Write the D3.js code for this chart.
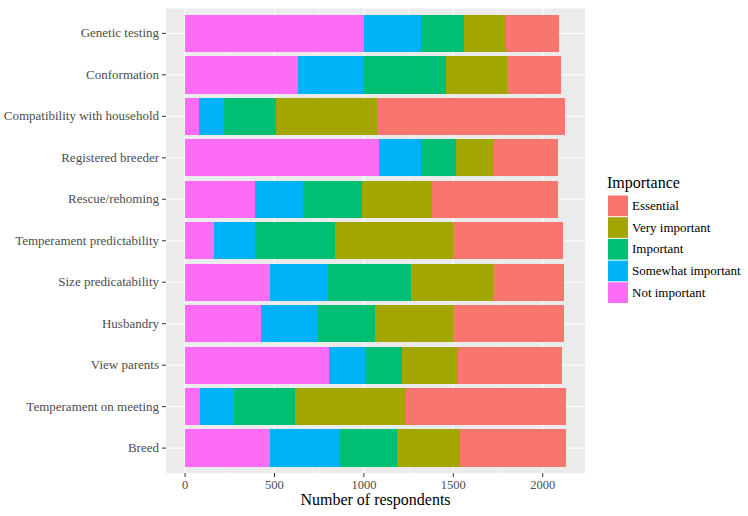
<!DOCTYPE html>
<html>
<head>
<meta charset="utf-8">
<script src="https://cdn.jsdelivr.net/npm/d3@7"></script>
<style>
  body { margin: 0; background: #fff; }
</style>
</head>
<body>
<div id="chart"></div>
<script>
(function() {
    // categories, top to bottom
    var categories = ["Genetic testing", "Conformation", "Compatibility with household",
        "Registered breeder", "Rescue/rehoming", "Temperament predictability",
        "Size predicatability", "Husbandry", "View parents",
        "Temperament on meeting", "Breed"];

    // stack order, left to right
    var levels = ["Not important", "Somewhat important", "Important", "Very important", "Essential"];
    var levelColors = ["#FD6CF4", "#00B2F8", "#00BE74", "#A3A500", "#F8766D"];

    var notImportant      = [1002, 629, 80, 1084, 393, 164, 475, 426, 804, 82, 475];
    var somewhatImportant = [316, 371, 140, 238, 268, 227, 326, 317, 205, 194, 393];
    var important         = [242, 460, 290, 194, 328, 447, 463, 317, 205, 339, 316];
    var veryImportant     = [235, 343, 566, 212, 393, 661, 459, 439, 313, 620, 354];
    var essential         = [294, 297, 1051, 356, 706, 615, 394, 620, 579, 894, 592];

    var xTicks = [0, 500, 1000, 1500, 2000];
    var xMinor = [250, 750, 1250, 1750];

    var width = 748, height = 516;
    var panel = {left: 166, right: 585, top: 8.5, bottom: 473};
    var font = "'Liberation Serif', 'DejaVu Serif', serif";

    var series = [notImportant, somewhatImportant, important, veryImportant, essential];
    var rows = categories.map(function(c, i) {
        var r = {category: c};
        levels.forEach(function(l, j) { r[l] = series[j][i]; });
        return r;
    });

    var stacked = d3.stack().keys(levels)(rows);
    var maxTotal = d3.max(rows, function(r) {
        return d3.sum(levels, function(l) { return r[l]; });
    });

    // 5% expansion like ggplot
    var pad = maxTotal * 0.05;
    var x = d3.scaleLinear()
        .domain([-pad, maxTotal + pad])
        .range([panel.left, panel.right]);

    // discrete axis: 0.6 expansion each side, bar width 0.9
    var y = d3.scalePoint()
        .domain(categories)
        .range([panel.top, panel.bottom])
        .padding(0.6);
    var step = y.step();

    var color = d3.scaleOrdinal().domain(levels).range(levelColors);

    var svg = d3.select("#chart")
        .append("svg")
        .attr("width", width)
        .attr("height", height)
        .attr("font-family", font);

    svg.append("rect")
        .attr("x", panel.left)
        .attr("y", panel.top)
        .attr("width", panel.right - panel.left)
        .attr("height", panel.bottom - panel.top)
        .attr("fill", "#EBEBEB");

    // grid
    svg.selectAll(".minor")
        .data(xMinor)
        .enter().append("line")
        .attr("x1", x).attr("x2", x)
        .attr("y1", panel.top).attr("y2", panel.bottom)
        .attr("stroke", "#fff").attr("stroke-width", 0.5);

    svg.selectAll(".majorx")
        .data(xTicks)
        .enter().append("line")
        .attr("x1", x).attr("x2", x)
        .attr("y1", panel.top).attr("y2", panel.bottom)
        .attr("stroke", "#fff").attr("stroke-width", 1.1);

    svg.selectAll(".majory")
        .data(categories)
        .enter().append("line")
        .attr("x1", panel.left).attr("x2", panel.right)
        .attr("y1", y).attr("y2", y)
        .attr("stroke", "#fff").attr("stroke-width", 1.1);

    // bars
    svg.selectAll(".layer")
        .data(stacked)
        .enter().append("g")
        .attr("fill", function(d) { return color(d.key); })
        .selectAll("rect")
        .data(function(d) { return d; })
        .enter().append("rect")
        .attr("x", function(d) { return x(d[0]); })
        .attr("width", function(d) { return x(d[1]) - x(d[0]); })
        .attr("y", function(d) { return y(d.data.category) - step * 0.45; })
        .attr("height", step * 0.9)
        .attr("shape-rendering", "crispEdges");

    // x axis
    var xa = svg.append("g");
    xa.selectAll("line")
        .data(xTicks)
        .enter().append("line")
        .attr("x1", x).attr("x2", x)
        .attr("y1", panel.bottom).attr("y2", panel.bottom + 4)
        .attr("stroke", "#333").attr("stroke-width", 1);
    xa.selectAll("text")
        .data(xTicks)
        .enter().append("text")
        .attr("x", x)
        .attr("y", panel.bottom + 16)
        .attr("text-anchor", "middle")
        .attr("font-size", 12.5)
        .attr("fill", "#4D4D4D")
        .text(function(d) { return d; });

    // y axis
    var ya = svg.append("g");
    ya.selectAll("line")
        .data(categories)
        .enter().append("line")
        .attr("x1", panel.left - 4).attr("x2", panel.left)
        .attr("y1", y).attr("y2", y)
        .attr("stroke", "#333").attr("stroke-width", 1);
    ya.selectAll("text")
        .data(categories)
        .enter().append("text")
        .attr("x", panel.left - 7)
        .attr("y", function(d) { return y(d) + 4; })
        .attr("text-anchor", "end")
        .attr("font-size", 13)
        .attr("fill", "#4D4D4D")
        .text(function(d) { return d; });

    svg.append("text")
        .attr("x", (panel.left + panel.right) / 2)
        .attr("y", 505)
        .attr("text-anchor", "middle")
        .attr("font-size", 16)
        .attr("fill", "#000")
        .text("Number of respondents");

    // legend, Essential on top
    var legend = svg.append("g").attr("transform", "translate(607,0)");
    legend.append("text")
        .attr("x", 0)
        .attr("y", 188)
        .attr("font-size", 16)
        .attr("fill", "#000")
        .text("Importance");

    var legendLevels = levels.slice().reverse();
    var keyH = 21.7;
    var keys = legend.selectAll(".key")
        .data(legendLevels)
        .enter().append("g")
        .attr("transform", function(d, i) { return "translate(0," + (195 + i * keyH) + ")"; });
    keys.append("rect")
        .attr("x", 1).attr("y", 0.5)
        .attr("width", 20).attr("height", keyH - 1)
        .attr("fill", function(d) { return color(d); });
    keys.append("text")
        .attr("x", 25)
        .attr("y", keyH / 2 + 4)
        .attr("font-size", 13)
        .attr("fill", "#000")
        .text(function(d) { return d; });
})();
</script>
</body>
</html>
